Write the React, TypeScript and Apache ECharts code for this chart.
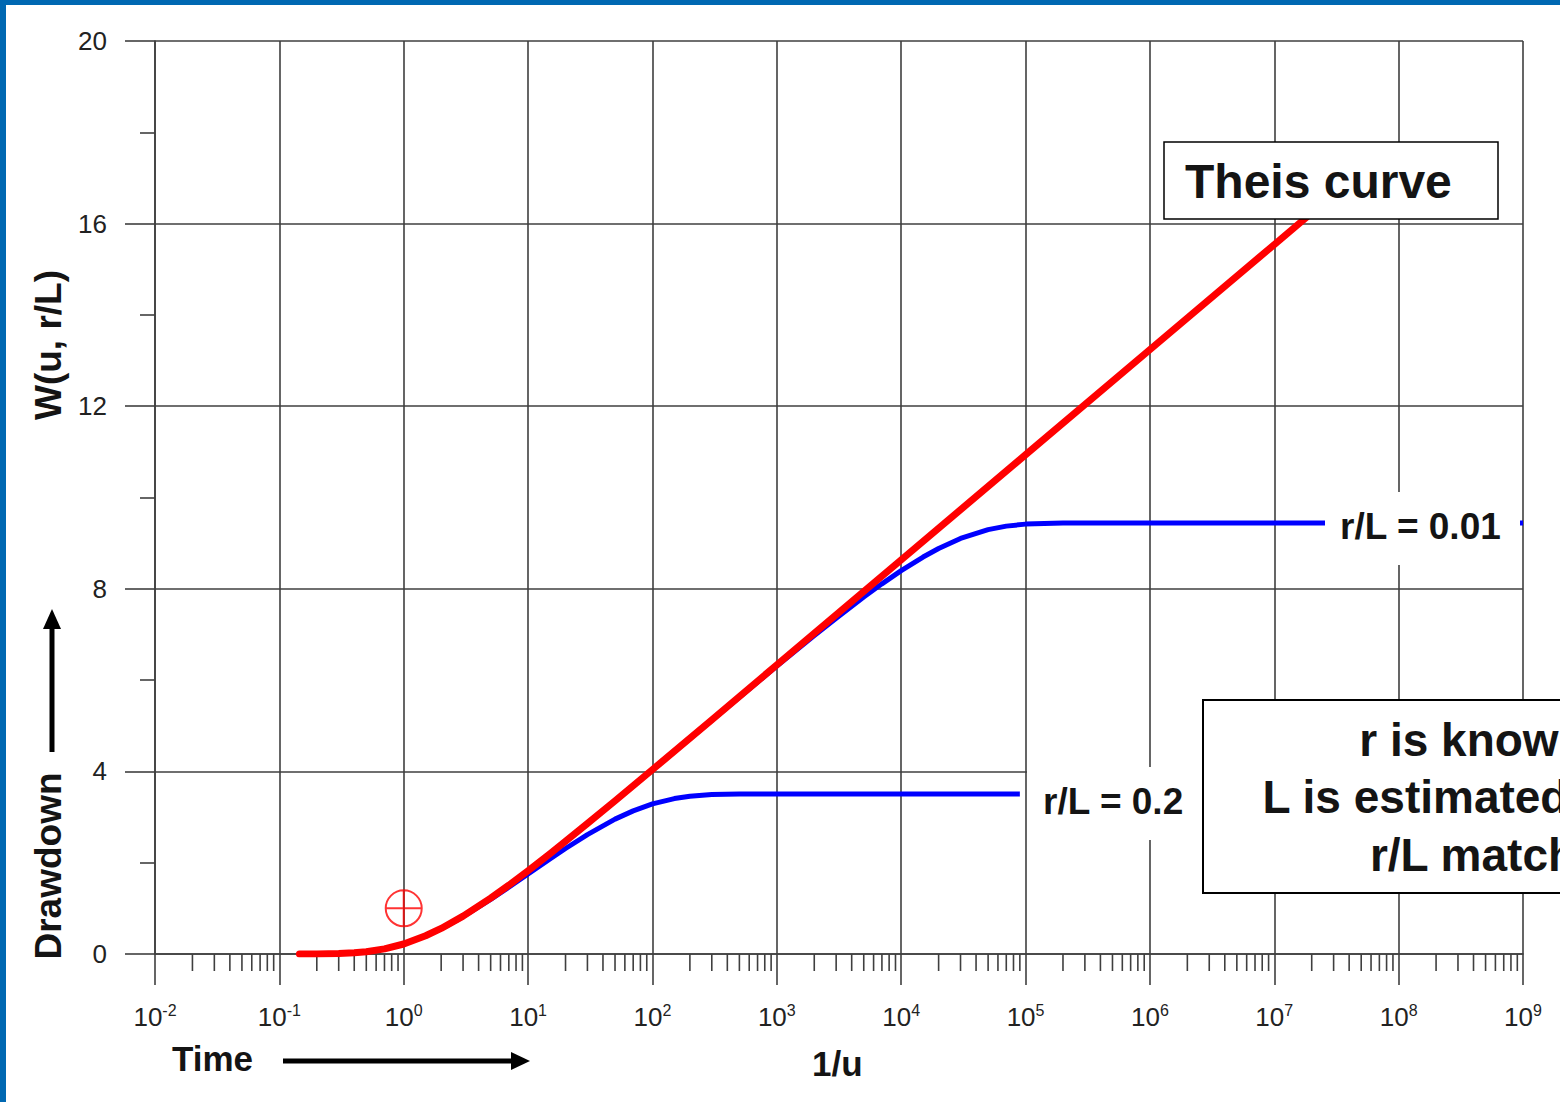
import React, { useEffect, useRef } from "react";
import * as echarts from "echarts";

// Dimensionless time 1/u and well-function values W for the non-leaky (Theis) type curve
const theisInvU = [0.145, 0.2, 0.25, 0.3, 0.4, 0.5, 0.7, 1, 1.5, 2, 3, 5, 7, 10, 15, 20, 30, 50, 100, 300, 1000, 1e4, 1e5, 1e6, 1e7, 2e7];
const theisW = [0.0, 0.001, 0.004, 0.009, 0.025, 0.049, 0.112, 0.219, 0.4, 0.56, 0.829, 1.223, 1.507, 1.823, 2.196, 2.468, 2.857, 3.355, 4.038, 5.13, 6.332, 8.633, 10.936, 13.238, 15.541, 16.234];

// Leaky-aquifer type curve, r/L = 0.2
const leaky02InvU = [0.17, 0.2, 0.25, 0.3, 0.4, 0.5, 0.7, 1, 1.5, 2, 3, 5, 7, 10, 15, 20, 30, 50, 70, 100, 150, 200, 300, 500, 1000, 9e4];
const leaky02W = [0.0, 0.001, 0.004, 0.009, 0.025, 0.049, 0.111, 0.218, 0.396, 0.553, 0.816, 1.194, 1.462, 1.753, 2.081, 2.311, 2.614, 2.954, 3.135, 3.288, 3.405, 3.457, 3.492, 3.504, 3.505, 3.505];

// Leaky-aquifer type curve, r/L = 0.01
const leaky001InvU = [0.17, 0.2, 0.25, 0.3, 0.4, 0.5, 0.7, 1, 1.5, 2, 3, 5, 7, 10, 15, 20, 30, 50, 100, 300, 1000, 2000, 3000, 5000, 7000, 1e4, 1.5e4, 2e4, 3e4, 5e4, 7e4, 1e5, 2e5, 1e6, 1e9];
const leaky001W = [0.0, 0.001, 0.004, 0.009, 0.025, 0.049, 0.112, 0.219, 0.4, 0.56, 0.829, 1.223, 1.507, 1.823, 2.196, 2.468, 2.857, 3.355, 4.038, 5.119, 6.305, 6.974, 7.355, 7.819, 8.109, 8.398, 8.696, 8.882, 9.102, 9.296, 9.373, 9.417, 9.441, 9.442, 9.442];

// Match point
const matchPoint = [1, 1];

// Axis ticks
const decadeExponents = [-2, -1, 0, 1, 2, 3, 4, 5, 6, 7, 8, 9];
const minorMultipliers = [2, 3, 4, 5, 6, 7, 8, 9];
const yTickValues = [0, 4, 8, 12, 16, 20];

const FONT = "'Liberation Sans', Arial, Helvetica, sans-serif";
const NARROW_FONT = "'Liberation Sans Narrow', 'Arial Narrow', 'Liberation Sans', Arial, sans-serif";
const GRID_COLOR = "#3f3f3f";
const TEXT_COLOR = "#141414";
const FRAME_BLUE = "#0068b2";

const pairs = (xs: number[], ys: number[]) => xs.map((x, i) => [x, ys[i]]);

const minorTickValues = decadeExponents
  .slice(0, -1)
  .flatMap((e) => minorMultipliers.map((m) => m * Math.pow(10, e)));

const matchSymbol =
  "path://M0,-18A18,18,0,1,1,0,18A18,18,0,1,1,0,-18ZM-18,0L18,0M0,-18L0,18";

function boldText(x: number, y: number, text: string, size: number, extra: any = {}) {
  return {
    type: "text",
    x,
    y,
    z: 101,
    ...extra,
    style: {
      text,
      fontSize: size,
      fontWeight: "bold",
      fontFamily: FONT,
      fill: TEXT_COLOR,
      align: "left",
      verticalAlign: "middle",
      ...(extra.style || {}),
    },
  };
}

export default function App() {
  const ref = useRef<HTMLDivElement>(null);

  useEffect(() => {
    document.body.style.margin = "0";
    if (!ref.current) return;
    const chart = echarts.init(ref.current, undefined, { renderer: "svg" });

    const lineAxisStyle = { color: GRID_COLOR, width: 1.6 };

    const option: any = {
      animation: false,
      backgroundColor: "#ffffff",
      grid: {
        left: 155,
        top: 41,
        width: 1368,
        height: 913,
        containLabel: false,
        outerBoundsMode: "none",
      },
      xAxis: {
        type: "log",
        logBase: 10,
        min: Math.pow(10, decadeExponents[0]),
        max: Math.pow(10, decadeExponents[decadeExponents.length - 1]),
        interval: 1,
        axisLine: { show: true, lineStyle: lineAxisStyle },
        axisTick: { show: true, length: 31, lineStyle: lineAxisStyle },
        splitLine: { show: true, lineStyle: lineAxisStyle },
        minorTick: { show: false },
        minorSplitLine: { show: false },
        axisLabel: {
          margin: 48,
          showMinLabel: true,
          showMaxLabel: true,
          hideOverlap: false,
          formatter: (v: number) => {
            const e = Math.round(Math.log10(v));
            return decadeExponents.includes(e) ? `{b|10}{s|${e}}` : "";
          },
          rich: {
            b: { fontSize: 26, lineHeight: 30, fontFamily: NARROW_FONT, color: "#222" },
            s: { fontSize: 16, lineHeight: 16, verticalAlign: "top", fontFamily: NARROW_FONT, color: "#222" },
          },
        },
      },
      yAxis: {
        type: "value",
        min: yTickValues[0],
        max: yTickValues[yTickValues.length - 1],
        interval: yTickValues[1] - yTickValues[0],
        axisLine: { show: true, lineStyle: lineAxisStyle },
        axisTick: { show: true, length: 30, lineStyle: lineAxisStyle },
        minorTick: { show: true, splitNumber: 2, length: 15, lineStyle: lineAxisStyle },
        splitLine: { show: true, lineStyle: lineAxisStyle },
        axisLabel: {
          margin: 48,
          fontSize: 26,
          color: "#222",
          fontFamily: FONT,
          showMinLabel: true,
          showMaxLabel: true,
        },
      },
      series: [
        {
          type: "custom",
          name: "minor ticks",
          silent: true,
          clip: false,
          z: 1,
          data: minorTickValues.map((v) => [v, 0]),
          encode: { x: 0, y: 1 },
          renderItem: (_params: any, api: any) => {
            const p = api.coord([api.value(0), 0]);
            return {
              type: "line",
              shape: { x1: p[0], y1: p[1], x2: p[0], y2: p[1] + 17 },
              style: { stroke: GRID_COLOR, lineWidth: 1.6 },
            };
          },
        },
        {
          type: "line",
          name: "r/L = 0.01",
          data: pairs(leaky001InvU, leaky001W),
          symbol: "none",
          smooth: false,
          lineStyle: { color: "#0000ff", width: 5, join: "round" },
          z: 3,
        },
        {
          type: "line",
          name: "r/L = 0.2",
          data: pairs(leaky02InvU, leaky02W),
          symbol: "none",
          smooth: false,
          lineStyle: { color: "#0000ff", width: 5, join: "round" },
          z: 3,
        },
        {
          type: "line",
          name: "Theis curve",
          data: pairs(theisInvU, theisW),
          symbol: "none",
          smooth: false,
          lineStyle: { color: "#ff0000", width: 7, cap: "round", join: "round" },
          z: 4,
        },
        {
          type: "scatter",
          name: "match point",
          data: [matchPoint],
          symbol: matchSymbol,
          symbolSize: 36,
          itemStyle: { color: "rgba(0,0,0,0)", borderColor: "#ff0000", borderWidth: 2 },
          z: 5,
        },
      ],
      graphic: [
        // frame
        { type: "rect", z: 110, shape: { x: 0, y: 0, width: 6, height: 1102 }, style: { fill: FRAME_BLUE } },
        { type: "rect", z: 110, shape: { x: 0, y: 0, width: 1560, height: 5 }, style: { fill: FRAME_BLUE } },

        // curve labels
        { type: "rect", z: 100, shape: { x: 1325, y: 492, width: 195, height: 73 }, style: { fill: "#ffffff" } },
        boldText(1340, 526, "r/L = 0.01", 37),
        { type: "rect", z: 100, shape: { x: 1027, y: 767, width: 176, height: 73 }, style: { fill: "#ffffff" } },
        boldText(1043, 801, "r/L = 0.2", 37),

        // Theis curve box
        {
          type: "rect",
          z: 100,
          shape: { x: 1164, y: 142, width: 334, height: 77 },
          style: { fill: "#ffffff", stroke: "#000000", lineWidth: 1.5 },
        },
        boldText(1185, 181.5, "Theis curve", 48),

        // note box, running past the right edge
        {
          type: "rect",
          z: 100,
          shape: { x: 1203, y: 700, width: 540, height: 193 },
          style: { fill: "#ffffff", stroke: "#000000", lineWidth: 2 },
        },
        boldText(1473, 740, "r is known", 46, { style: { align: "center" } }),
        boldText(1473, 796.5, "L is estimated from", 46, { style: { align: "center" } }),
        boldText(1473, 855, "r/L match", 46, { style: { align: "center" } }),

        // axis names
        boldText(48, 345, "W(u, r/L)", 37, { rotation: Math.PI / 2, style: { align: "center" } }),
        boldText(48, 866, "Drawdown", 37, { rotation: Math.PI / 2, style: { align: "center" } }),
        {
          type: "line",
          z: 101,
          shape: { x1: 52, y1: 752, x2: 52, y2: 626 },
          style: { stroke: "#000000", lineWidth: 5 },
        },
        {
          type: "polygon",
          z: 101,
          shape: { points: [[52, 609], [43, 629], [61, 629]] },
          style: { fill: "#000000" },
        },
        boldText(172, 1058, "Time", 35),
        {
          type: "line",
          z: 101,
          shape: { x1: 283, y1: 1061, x2: 514, y2: 1061 },
          style: { stroke: "#000000", lineWidth: 5 },
        },
        {
          type: "polygon",
          z: 101,
          shape: { points: [[530, 1061], [511, 1052], [511, 1070]] },
          style: { fill: "#000000" },
        },
        boldText(812, 1063, "1/u", 35),
      ],
    };

    chart.setOption(option);
    return () => chart.dispose();
  }, []);

  return (
    <div
      ref={ref}
      style={{ position: "fixed", left: 0, top: 0, width: 1560, height: 1102, overflow: "hidden", background: "#fff" }}
    />
  );
}
